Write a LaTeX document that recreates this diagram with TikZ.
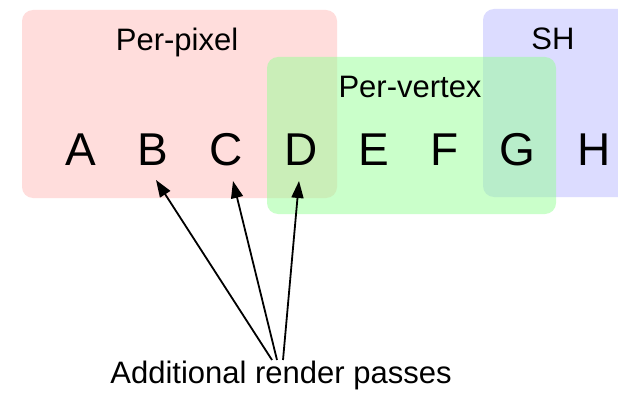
\documentclass[tikz,border=0pt]{standalone}
\usepackage{fontspec}
\setmainfont{Liberation Sans}
\usetikzlibrary{arrows.meta}
\definecolor{pinkbase}{RGB}{255,188,186}
\definecolor{greenbase}{RGB}{150,255,150}
\definecolor{bluebase}{RGB}{186,186,255}
\tikzset{
  region/.style={rounded corners=11pt, fill opacity=0.5, draw=none},
  letter/.style={anchor=base, inner sep=0pt, font=\fontsize{46}{46}\selectfont},
  lbl/.style={anchor=base, inner sep=0pt, font=\fontsize{31}{31}\selectfont},
  arr/.style={line width=1.8pt, -{Triangle[length=17pt,width=12pt]}}
}
\begin{document}
\begin{tikzpicture}[x=1pt,y=-1pt]
\useasboundingbox (0,0) rectangle (618,393);
\fill[white] (0,0) rectangle (618,393);
% regions
\fill[region, fill=bluebase] (483,9) rectangle (640,197);
\fill[region, fill=pinkbase] (22,10) rectangle (337,198);
\fill[region, fill=greenbase] (267,57) rectangle (556,214);
% labels
\node[lbl] (pp) at (177,51) {Per-pixel};
\node[lbl] (pv) at (410,98) {Per-vertex};
\node[lbl] (sh) at (553,50) {SH};
% letters
\node[letter] (A) at (81,165) {A};
\node[letter] (B) at (153,165) {B};
\node[letter] (C) at (226,165) {C};
\node[letter] (D) at (301,165) {D};
\node[letter] (E) at (374,165) {E};
\node[letter] (F) at (445,165) {F};
\node[letter] (G) at (517,165) {G};
\node[letter] (H) at (594,165) {H};
% bottom text
\node[lbl] (passes) at (281,383) {Additional render passes};
\coordinate (s1) at (272,360);
\coordinate (s2) at (277,360);
\coordinate (s3) at (283,360);
\coordinate (tB) at (156,180);
\coordinate (tC) at (233,181);
\coordinate (tD) at (299,181);
\draw[arr] (s1) -- (tB);
\draw[arr] (s2) -- (tC);
\draw[arr] (s3) -- (tD);
\end{tikzpicture}
\end{document}
